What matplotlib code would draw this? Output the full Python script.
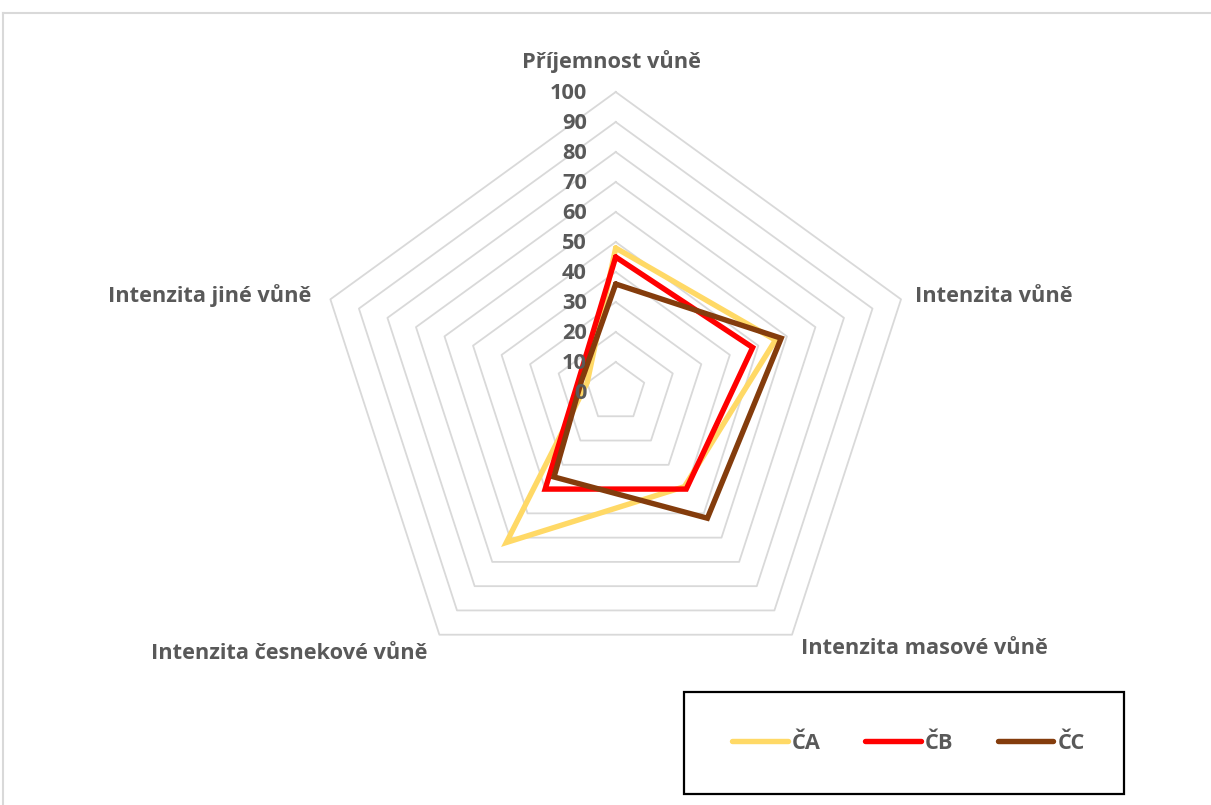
# ==========================================================
# RADAR - INTENZITA A PŘÍJEMNOST VŮNĚ (ČA, ČB, ČC)
# ==========================================================

import numpy as np
import matplotlib
matplotlib.use("Agg")
import matplotlib.pyplot as plt
from matplotlib.lines import Line2D
from matplotlib.patches import Rectangle

# ==========================================================
# DATA
# ==========================================================

kategorie = [
    "Příjemnost vůně",
    "Intenzita vůně",
    "Intenzita masové vůně",
    "Intenzita česnekové vůně",
    "Intenzita jiné vůně",
]

hodnoty_CA = [48, 56, 39, 62, 10]
hodnoty_CB = [45, 48, 40, 40, 13]
hodnoty_CC = [36, 58, 52, 35, 12]

nazvy_serii = ["ČA", "ČB", "ČC"]

urovne = [0, 10, 20, 30, 40, 50, 60, 70, 80, 90, 100]

# ==========================================================
# NASTAVENÍ
# ==========================================================

BARVY = ["#FFD966", "#FF0000", "#843C0C"]
SEDA_TEXT = "#595959"
SEDA_MRIZKA = "#D9D9D9"

plt.rcParams["font.family"] = ["Open Sans", "DejaVu Sans"]
plt.rcParams["font.weight"] = "bold"

VELIKOST = 15.7

W, H = 1211, 805
STRED = (615.7, 392.0)   # střed grafu v pixelech
PX = 3.0                 # pixelů na jednotku hodnoty

# ==========================================================
# POMOCNÉ FUNKCE
# ==========================================================

def uhly(n):
    # osa 0 nahoru, dále po směru hodinových ručiček
    return np.pi / 2 - np.arange(n) * 2 * np.pi / n


def na_xy(hodnoty):
    a = uhly(len(hodnoty))
    r = np.asarray(hodnoty, dtype=float)
    x = r * np.cos(a)
    y = r * np.sin(a)
    return np.append(x, x[0]), np.append(y, y[0])

# ==========================================================
# GRAF
# ==========================================================

def graf():

    fig = plt.figure(figsize=(W / 100, H / 100), dpi=100)
    ax = fig.add_axes([0, 0, 1, 1])
    ax.set_xlim(-STRED[0] / PX, (W - STRED[0]) / PX)
    ax.set_ylim(-(H - STRED[1]) / PX, STRED[1] / PX)
    ax.axis("off")

    n = len(kategorie)

    # mřížka
    for u in urovne[1:]:
        x, y = na_xy([u] * n)
        ax.plot(x, y, color=SEDA_MRIZKA, lw=1.3, zorder=1)

    # popisky hodnot
    for u in urovne:
        ax.text(-9.6, u - 0.6, str(u), ha="right", va="center",
                fontsize=VELIKOST, color=SEDA_TEXT, zorder=5)

    # série
    handles = []
    for hodnoty, barva, nazev in zip([hodnoty_CA, hodnoty_CB, hodnoty_CC],
                                     BARVY, nazvy_serii):
        x, y = na_xy(hodnoty)
        line, = ax.plot(x, y, color=barva, lw=3.9, label=nazev,
                        solid_joinstyle="miter", solid_capstyle="round",
                        zorder=3)
        handles.append(line)

    # popisky kategorií
    a = uhly(n)
    for i, text in enumerate(kategorie):
        cx, cy = np.cos(a[i]), np.sin(a[i])
        if abs(cx) < 0.01:
            ax.text(-1.5, 110.0, text, ha="center", va="center",
                    fontsize=VELIKOST, color=SEDA_TEXT)
        elif cx > 0:
            ax.text(105 * cx, 105 * cy - 0.7, text, ha="left", va="center",
                    fontsize=VELIKOST, color=SEDA_TEXT)
        else:
            ax.text(106.7 * cx, 106.7 * cy - 0.7, text, ha="right", va="center",
                    fontsize=VELIKOST, color=SEDA_TEXT)

    # rámeček grafu
    fig.add_artist(Line2D([3 / W, 3 / W], [0, 1 - 13 / H],
                          color=SEDA_MRIZKA, lw=1.5))
    fig.add_artist(Line2D([3 / W, 1], [1 - 13 / H, 1 - 13 / H],
                          color=SEDA_MRIZKA, lw=1.5))

    # legenda
    fig.add_artist(Rectangle((684 / W, 1 - 794 / H), 440 / W, 102 / H,
                             fill=False, edgecolor="black", lw=1.6))

    fig.legend(
        handles,
        nazvy_serii,
        loc="center",
        bbox_to_anchor=(908.5 / W, 1 - 743 / H),
        ncol=3,
        frameon=False,
        handlelength=2.55,
        handletextpad=0.2,
        columnspacing=2.03,
        prop={"size": VELIKOST, "weight": "bold"},
        labelcolor=SEDA_TEXT,
    )

    fig.savefig("out.png", dpi=100)


def main():
    graf()


if __name__ == "__main__":
    main()
